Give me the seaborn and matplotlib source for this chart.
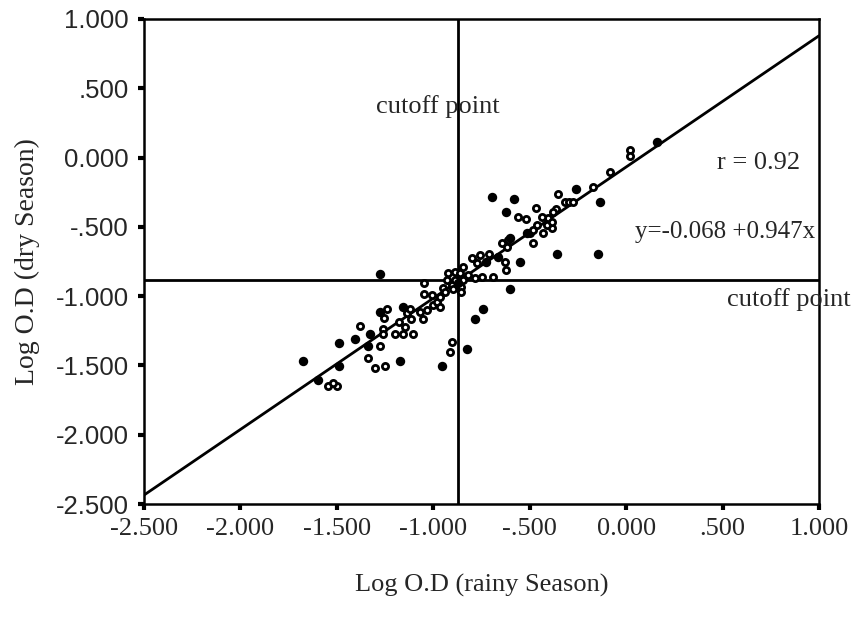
import matplotlib
matplotlib.use("Agg")
import matplotlib.pyplot as plt
from matplotlib import font_manager as fm
import seaborn as sns

# ---------------- data ----------------
filled_x = [-1.677, -1.600, -1.488, -1.488, -1.406, -1.328, -1.337, -1.173, -1.159, -1.277,
            -0.957, -0.824, -0.784, -0.744, -0.727, -0.663, -0.603, -0.603, -0.551, -0.872,
            -1.277, -0.516, -0.623, -0.582, -0.698, -0.261, -0.134, 0.159, -0.359, -0.145]
filled_y = [-1.465, -1.605, -1.504, -1.340, -1.311, -1.273, -1.359, -1.465, -1.076, -1.112,
            -1.504, -1.381, -1.165, -1.095, -0.751, -0.715, -0.582, -0.950, -0.751, -0.905,
            -0.840, -0.542, -0.390, -0.301, -0.282, -0.229, -0.320, 0.115, -0.696, -0.697]

open_x = [-1.545, -1.498, -1.522, -1.380, -1.340, -1.302, -1.251, -1.277, -1.263, -1.263,
          -1.199, -1.159, -1.107, -1.177, -1.138, -1.117, -1.055, -1.121, -1.242, -1.256,
          -0.902, -0.914, -1.048, -1.048, -1.069, -1.034, -1.147, -1.009, -1.000, -0.983,
          -0.966, -0.966, -0.948, -0.931, -0.922, -0.905, -0.888, -0.888, -0.862, -0.857,
          -0.857, -0.845, -0.845, -0.819, -0.784, -0.749, -0.692, -0.801, -0.775, -0.758,
          -0.710, -0.646, -0.620, -0.629, -0.623, -0.940, -0.898, -0.612, -0.499, -0.482,
          -0.464, -0.430, -0.386, -0.412, -0.404, -0.386, -0.438, -0.468, -0.364, -0.560,
          -0.520, -0.352, -0.318, -0.295, -0.274, -0.172, -0.082, 0.019, 0.019, -0.482,
          -0.380]
open_y = [-1.648, -1.648, -1.624, -1.215, -1.448, -1.520, -1.504, -1.359, -1.239, -1.273,
          -1.273, -1.273, -1.273, -1.184, -1.121, -1.167, -1.167, -1.092, -1.095, -1.159,
          -1.328, -1.400, -0.907, -0.984, -1.112, -1.100, -1.220, -0.991, -1.063, -1.040,
          -1.004, -1.076, -0.943, -0.883, -0.835, -0.919, -0.883, -0.823, -0.835, -0.931,
          -0.968, -0.883, -0.787, -0.847, -0.871, -0.859, -0.859, -0.727, -0.763, -0.703,
          -0.696, -0.618, -0.643, -0.751, -0.811, -0.970, -0.948, -0.595, -0.546, -0.522,
          -0.486, -0.546, -0.506, -0.486, -0.438, -0.463, -0.426, -0.366, -0.373, -0.426,
          -0.443, -0.266, -0.320, -0.320, -0.320, -0.210, -0.102, 0.055, 0.008, -0.618,
          -0.393]

intercept = -0.068
slope = 0.947
cutoff_x = -0.872
cutoff_y = -0.883

tick_values = [-2.5, -2.0, -1.5, -1.0, -0.5, 0.0, 0.5, 1.0]
tick_labels = ["-2.500", "-2.000", "-1.500", "-1.000", "-.500", "0.000", ".500", "1.000"]

x_label = "Log O.D (rainy Season)"
y_label = "Log O.D (dry Season)"
r_text = "r = 0.92"
eq_text = "y=-0.068 +0.947x"
cutoff_text = "cutoff point"

# ---------------- style ----------------
sns.set_style("ticks")
names = {f.name for f in fm.fontManager.ttflist}
narrow = "Liberation Sans Narrow" in names
sans = "Liberation Sans Narrow" if narrow else "Liberation Sans"
ytick_size = 22 if narrow else 18.5
serif = "Liberation Serif"
plt.rcParams["font.family"] = [serif, "DejaVu Serif"]

fig = plt.figure(figsize=(8.58, 6.2), dpi=100)
ax = fig.add_axes([144 / 858, 1 - 504 / 620, 675 / 858, 485 / 620])

# regression line
xl = [tick_values[0], tick_values[-1]]
ax.plot(xl, [intercept + slope * v for v in xl], color="black", lw=2.0, zorder=3)
# cutoff lines
ax.axvline(cutoff_x, color="black", lw=2.0, zorder=2)
ax.axhline(cutoff_y, color="black", lw=2.0, zorder=2)

sns.scatterplot(x=open_x, y=open_y, ax=ax, marker="o", s=20, color="white",
                edgecolor="black", linewidth=2.0, zorder=4)
sns.scatterplot(x=filled_x, y=filled_y, ax=ax, marker="o", s=46, color="black",
                edgecolor="black", linewidth=0, zorder=5)

ax.set_xlim(tick_values[0], tick_values[-1])
ax.set_ylim(tick_values[0], tick_values[-1])
ax.set_xticks(tick_values)
ax.set_yticks(tick_values)
ax.set_xticklabels(tick_labels, fontsize=19, family=serif)
ax.set_yticklabels(tick_labels, fontsize=ytick_size, family=sans)
ax.tick_params(axis="both", direction="out", length=4, width=3, color="black")
ax.tick_params(axis="y", pad=7)
ax.tick_params(axis="x", pad=6)

for sp in ax.spines.values():
    sp.set_visible(True)
    sp.set_linewidth(1.8)
    sp.set_color("black")

ax.set_xlabel(x_label, fontsize=19, family=serif)
ax.set_ylabel(y_label, fontsize=20, family=serif)
ax.xaxis.set_label_coords(0.5, -0.167)
ax.yaxis.set_label_coords(-0.173, 0.5)
ax.xaxis.label.set_va("center")
ax.yaxis.label.set_va("center")

ax.text(-0.976, 0.371, cutoff_text, fontsize=19, ha="center", va="center", family=serif)
ax.text(0.901, -0.039, r_text, fontsize=19, ha="right", va="center", family=serif)
ax.text(0.978, -0.537, eq_text, fontsize=18, ha="right", va="center", family=serif)
ax.text(0.522, -1.027, cutoff_text, fontsize=19, ha="left", va="center", family=serif,
        clip_on=False)

fig.savefig("out.png", dpi=100)
